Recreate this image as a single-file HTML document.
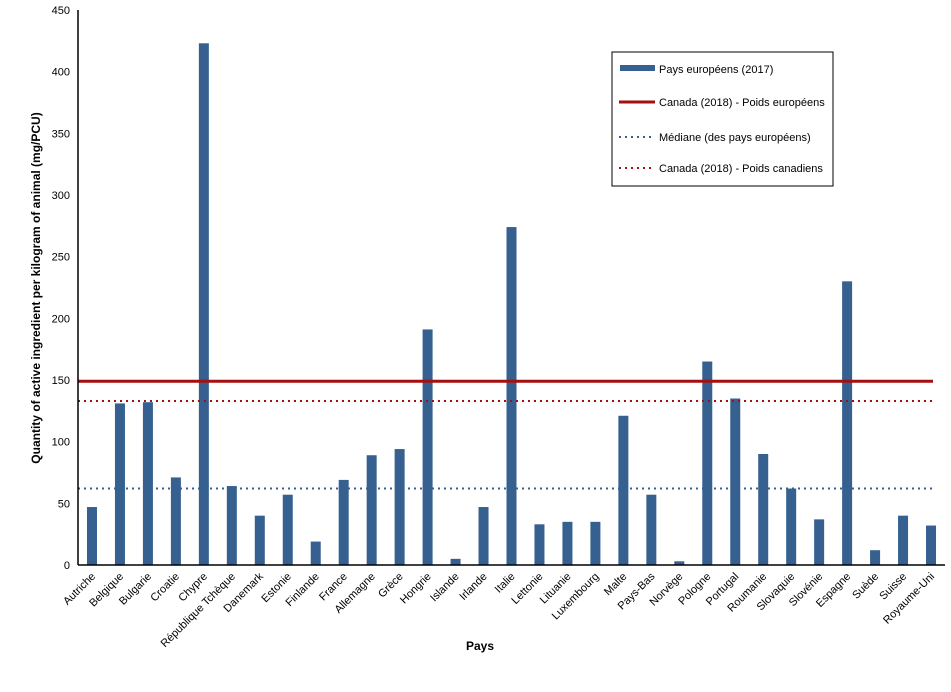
<!DOCTYPE html>
<html><head><meta charset="utf-8"><style>
body{margin:0;background:#fff;}
svg text{font-family:"Liberation Sans",sans-serif;}
</style></head><body>
<svg id="chart" width="951" height="687" xmlns="http://www.w3.org/2000/svg">
<g id="bars"></g>
<g id="lines"></g>
<g id="yaxis"></g>
<g id="xaxis"></g>
<text transform="translate(40,288) rotate(-90)" text-anchor="middle" font-size="12" font-weight="bold">Quantity of active ingredient per kilogram of animal  (mg/PCU)</text>
<text x="480" y="650" text-anchor="middle" font-size="12" font-weight="bold">Pays</text>
<g>
<rect x="612" y="52" width="221" height="134" fill="#fff" stroke="#000" stroke-width="1"/>
<rect x="620" y="65" width="35" height="6" fill="#35608f"/>
<text x="659" y="73" font-size="11">Pays européens (2017)</text>
<line x1="619" y1="102" x2="655" y2="102" stroke="#a50f0f" stroke-width="3"/>
<text x="659" y="106" font-size="11">Canada (2018) - Poids européens</text>
<line x1="619" y1="137" x2="655" y2="137" stroke="#35608f" stroke-width="2" stroke-dasharray="2,4"/>
<text x="659" y="141" font-size="11">Médiane (des pays européens)</text>
<line x1="619" y1="168" x2="655" y2="168" stroke="#a50f0f" stroke-width="2" stroke-dasharray="2,4"/>
<text x="659" y="172" font-size="11">Canada (2018) - Poids canadiens</text>
</g>
</svg>
<script>
const categories=["Autriche","Belgique","Bulgarie","Croatie","Chypre","République Tchèque","Danemark","Estonie","Finlande","France","Allemagne","Grèce","Hongrie","Islande","Irlande","Italie","Lettonie","Lituanie","Luxembourg","Malte","Pays-Bas","Norvège","Pologne","Portugal","Roumanie","Slovaquie","Slovénie","Espagne","Suède","Suisse","Royaume-Uni"];
const values=[47,131,132,71,423,64,40,57,19,69,89,94,191,5,47,274,33,35,35,121,57,3,165,135,90,62,37,230,12,40,32];
const canadaEuro=149;
const median=62;
const canadaCan=133;
const yTicks=[0,50,100,150,200,250,300,350,400,450];
const NS="http://www.w3.org/2000/svg";
const X0=78,X1=945,Y0=565,Y1=10,MAX=450;
const step=(X1-X0)/categories.length;
const x=i=>X0+step*(i+0.5);
const y=v=>Y0-(v/MAX)*(Y0-Y1);
function mk(t,a,p){const e=document.createElementNS(NS,t);for(const k in a)e.setAttribute(k,a[k]);p.appendChild(e);return e;}
const bars=document.getElementById('bars');
values.forEach((v,i)=>{const r=mk('rect',{x:x(i)-5,y:y(v),width:10,height:Y0-y(v),fill:'#35608f'},bars);

});
const lines=document.getElementById('lines');
[[canadaEuro,'#a50f0f',3,null,'line-canada-euro'],[canadaCan,'#a50f0f',2,'2,4','line-canada-can'],[median,'#35608f',2,'2,4','line-median']].forEach(d=>{
const l=mk('line',{x1:X0,x2:X1-12,y1:y(d[0]),y2:y(d[0]),stroke:d[1],'stroke-width':d[2]},lines);
if(d[3])l.setAttribute('stroke-dasharray',d[3]);

});
const ya=document.getElementById('yaxis');
mk('line',{x1:X0,x2:X0,y1:Y1,y2:Y0,stroke:'#000','stroke-width':1.5},ya);
yTicks.forEach(t=>{const tx=mk('text',{x:X0-8,y:y(t)+4,'text-anchor':'end','font-size':11},ya);tx.textContent=t;

});
const xa=document.getElementById('xaxis');
mk('line',{x1:X0,x2:X1,y1:Y0,y2:Y0,stroke:'#000','stroke-width':1.5},xa);
categories.forEach((c,i)=>{const tx=mk('text',{transform:`translate(${x(i)+4},${Y0+12}) rotate(-45)`,'text-anchor':'end','font-size':11},xa);tx.textContent=c;

});
</script>
</body></html>
